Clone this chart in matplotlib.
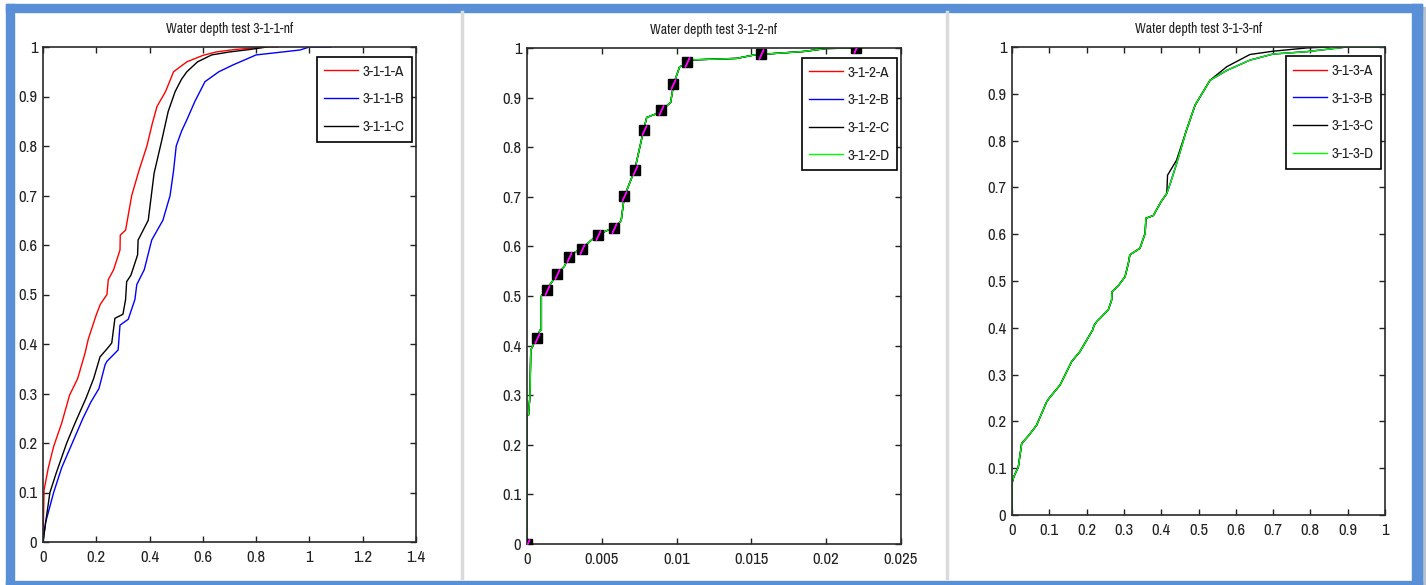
import matplotlib
matplotlib.use("Agg")
import matplotlib.pyplot as plt
from matplotlib import font_manager
from matplotlib.patches import Rectangle
from matplotlib.lines import Line2D
from matplotlib.ticker import FormatStrFormatter

# pick a narrow font if there is one
names = set(f.name for f in font_manager.fontManager.ttflist)
font = "Liberation Sans"
for cand in ["Liberation Sans Narrow", "Arial Narrow", "Archivo Narrow", "PT Sans Narrow", "Roboto Condensed"]:
    if cand in names:
        font = cand
        break
plt.rcParams["font.family"] = [font, "DejaVu Sans"]

titles = ["Water depth test 3-1-1-nf", "Water depth test 3-1-2-nf", "Water depth test 3-1-3-nf"]

# test 3-1-1
a1_x = [0, 0.004, 0.02, 0.04, 0.07, 0.10, 0.13, 0.158, 0.17, 0.20, 0.215, 0.24, 0.245, 0.265, 0.289, 0.29,
        0.31, 0.333, 0.36, 0.39, 0.41, 0.428, 0.46, 0.49, 0.54, 0.6, 0.65, 0.72, 0.84, 0.88]
a1_y = [0, 0.105, 0.15, 0.193, 0.24, 0.297, 0.33, 0.382, 0.41, 0.459, 0.48, 0.50, 0.53, 0.55, 0.59, 0.62,
        0.63, 0.70, 0.75, 0.80, 0.845, 0.88, 0.91, 0.95, 0.97, 0.983, 0.99, 0.995, 1.0, 1.0]
b1_x = [0, 0.01, 0.04, 0.07, 0.11, 0.15, 0.18, 0.21, 0.233, 0.24, 0.282, 0.289, 0.32, 0.345, 0.352, 0.38,
        0.408, 0.45, 0.477, 0.49, 0.50, 0.52, 0.54, 0.57, 0.608, 0.66, 0.714, 0.80, 0.90, 0.965, 1.0, 1.08]
b1_y = [0, 0.04, 0.10, 0.15, 0.20, 0.25, 0.283, 0.31, 0.358, 0.365, 0.388, 0.438, 0.45, 0.49, 0.52, 0.55,
        0.61, 0.65, 0.70, 0.75, 0.80, 0.83, 0.853, 0.89, 0.93, 0.95, 0.964, 0.984, 0.99, 0.994, 1.0, 1.0]
c1_x = [0, 0.01, 0.026, 0.05, 0.089, 0.12, 0.161, 0.19, 0.214, 0.24, 0.258, 0.27, 0.30, 0.31, 0.314, 0.33,
        0.355, 0.357, 0.395, 0.417, 0.446, 0.47, 0.496, 0.52, 0.54, 0.58, 0.633, 0.70, 0.777, 0.84]
c1_y = [0, 0.04, 0.10, 0.14, 0.20, 0.24, 0.29, 0.33, 0.374, 0.39, 0.402, 0.452, 0.46, 0.49, 0.526, 0.539,
        0.58, 0.61, 0.65, 0.745, 0.812, 0.87, 0.91, 0.935, 0.95, 0.97, 0.984, 0.99, 0.995, 1.0]

# test 3-1-2 (all four curves lie on top of each other)
d2_x = [0, 0, 0.0001, 0.0002, 0.0002, 0.00025, 0.00038, 0.00065, 0.00087, 0.00096, 0.00096, 0.0013, 0.0017,
        0.0020, 0.0025, 0.0028, 0.0033, 0.0037, 0.0042, 0.0047, 0.0052, 0.0058, 0.0060, 0.0063, 0.0065, 0.0072,
        0.0078, 0.0080, 0.0087, 0.0094, 0.0096, 0.0098, 0.0102, 0.0105, 0.0110, 0.0140, 0.0152, 0.0156, 0.0185,
        0.0200, 0.0220]
d2_y = [0, 0.26, 0.26, 0.30, 0.30, 0.39, 0.40, 0.415, 0.431, 0.431, 0.50, 0.513, 0.53, 0.544, 0.56, 0.579,
        0.59, 0.595, 0.61, 0.623, 0.63, 0.638, 0.64, 0.653, 0.70, 0.754, 0.835, 0.86, 0.868, 0.885, 0.89, 0.927,
        0.962, 0.966, 0.976, 0.979, 0.986, 0.987, 0.993, 0.999, 1.0]
mark_x = [0, 0.00065, 0.00131, 0.00203, 0.00283, 0.0037, 0.00472, 0.00582, 0.0065, 0.0072, 0.00782, 0.00894,
          0.00978, 0.01072, 0.01562, 0.022]
mark_y = [0, 0.415, 0.513, 0.544, 0.579, 0.595, 0.623, 0.638, 0.702, 0.754, 0.835, 0.874, 0.927, 0.971, 0.987, 1.0]

# test 3-1-3
c3_x = [0, 0, 0.005, 0.017, 0.026, 0.045, 0.066, 0.093, 0.10, 0.129, 0.16, 0.182, 0.216, 0.22, 0.227, 0.258,
        0.267, 0.268, 0.285, 0.303, 0.312, 0.316, 0.343, 0.357, 0.359, 0.379, 0.40, 0.415, 0.417, 0.441, 0.468,
        0.491, 0.531, 0.576, 0.638, 0.70, 0.79, 0.85]
c3_y = [0, 0.068, 0.082, 0.103, 0.153, 0.17, 0.192, 0.242, 0.25, 0.278, 0.328, 0.349, 0.395, 0.405, 0.413,
        0.438, 0.459, 0.477, 0.49, 0.509, 0.538, 0.556, 0.570, 0.602, 0.634, 0.64, 0.67, 0.687, 0.726, 0.758,
        0.823, 0.876, 0.929, 0.958, 0.984, 0.991, 0.998, 1.0]
d3_x = [0, 0, 0.005, 0.017, 0.026, 0.045, 0.066, 0.093, 0.10, 0.129, 0.16, 0.182, 0.216, 0.22, 0.227, 0.258,
        0.267, 0.268, 0.285, 0.303, 0.312, 0.316, 0.343, 0.357, 0.359, 0.379, 0.40, 0.415, 0.425, 0.441, 0.468,
        0.491, 0.531, 0.576, 0.638, 0.70, 0.79, 0.897, 1.0]
d3_y = [0, 0.068, 0.082, 0.103, 0.153, 0.17, 0.192, 0.242, 0.25, 0.278, 0.328, 0.349, 0.395, 0.405, 0.413,
        0.438, 0.459, 0.477, 0.49, 0.509, 0.538, 0.556, 0.570, 0.602, 0.634, 0.64, 0.67, 0.687, 0.71, 0.75,
        0.823, 0.876, 0.929, 0.95, 0.972, 0.985, 0.99, 1.0, 1.0]

fig = plt.figure(figsize=(14.26, 5.85), dpi=100)

blue = "#588fd6"
# outer blue frame
fig.patches.append(Rectangle((6 / 1426, 0), 1416 / 1426, 4 / 585, transform=fig.transFigure, color=blue, zorder=-5))
fig.patches.append(Rectangle((6 / 1426, 573 / 585), 1416 / 1426, 8 / 585, transform=fig.transFigure, color=blue, zorder=-5))
fig.patches.append(Rectangle((6 / 1426, 0), 8 / 1426, 581 / 585, transform=fig.transFigure, color=blue, zorder=-5))
fig.patches.append(Rectangle((1412 / 1426, 0), 10 / 1426, 581 / 585, transform=fig.transFigure, color=blue, zorder=-5))
fig.patches.append(Rectangle((1422 / 1426, 0), 4 / 1426, 578 / 585, transform=fig.transFigure, color="#b8c2cc", zorder=-6))
for sx in [461.5, 946.5]:
    fig.add_artist(Line2D([sx / 1426, sx / 1426], [7 / 585, 573 / 585], transform=fig.transFigure,
                          color="#dadada", lw=2.5))

ax1 = fig.add_axes([43 / 1426, 43 / 585, 373 / 1426, 495 / 585])
ax2 = fig.add_axes([527 / 1426, 41 / 585, 374 / 1426, 496 / 585])
ax3 = fig.add_axes([1012 / 1426, 70 / 585, 373 / 1426, 468 / 585])

lw = 1.0
ax1.plot(a1_x, a1_y, color="#ff0000", lw=lw, label="3-1-1-A")
ax1.plot(b1_x, b1_y, color="#0000ff", lw=lw, label="3-1-1-B")
ax1.plot(c1_x, c1_y, color="#000000", lw=lw, label="3-1-1-C")
ax1.set_xlim(0, 1.4)
ax1.set_xticks([0, 0.2, 0.4, 0.6, 0.8, 1, 1.2, 1.4])

ax2.plot(d2_x, d2_y, color="#ff0000", lw=lw, label="3-1-2-A")
ax2.plot(d2_x, d2_y, color="#0000ff", lw=lw, label="3-1-2-B")
ax2.plot(d2_x, d2_y, color="#000000", lw=lw, label="3-1-2-C")
ax2.plot(d2_x, d2_y, color="#00ff00", lw=lw, label="3-1-2-D")
ax2.plot(mark_x, mark_y, ls="none", marker="s", ms=7.5, mfc="black", mec="black", zorder=5)
ax2.plot(mark_x, mark_y, ls="none", marker=(2, 2, -25), ms=8, mec="#ff00ff", mew=1.0, zorder=6)
ax2.set_xlim(0, 0.025)
ax2.set_xticks([0, 0.005, 0.01, 0.015, 0.02, 0.025])

ax3.plot(d3_x, d3_y, color="#ff0000", lw=lw, label="3-1-3-A")
ax3.plot(d3_x, d3_y, color="#0000ff", lw=lw, label="3-1-3-B")
ax3.plot(c3_x, c3_y, color="#000000", lw=lw, label="3-1-3-C")
ax3.plot(d3_x, d3_y, color="#00ff00", lw=lw, label="3-1-3-D")
ax3.set_xlim(0, 1)
ax3.set_xticks([0, 0.1, 0.2, 0.3, 0.4, 0.5, 0.6, 0.7, 0.8, 0.9, 1])

for ax, t in zip([ax1, ax2, ax3], titles):
    ax.set_ylim(0, 1)
    ax.set_yticks([0, 0.1, 0.2, 0.3, 0.4, 0.5, 0.6, 0.7, 0.8, 0.9, 1])
    ax.xaxis.set_major_formatter(FormatStrFormatter("%g"))
    ax.yaxis.set_major_formatter(FormatStrFormatter("%g"))
    ax.tick_params(direction="in", length=4, width=1, top=True, right=True, labelsize=12,
                   colors="#222222")
    ax.tick_params(axis="x", pad=6)
    ax.tick_params(axis="y", pad=4)
    for sp in ax.spines.values():
        sp.set_color("#2a2a2a")
        sp.set_linewidth(1.2)
    ax.set_title(t, fontsize=10, color="#222222", pad=10)
    leg = ax.legend(loc="upper right", bbox_to_anchor=(0.99, 0.98), borderaxespad=0, fontsize=11,
                    fancybox=False, framealpha=1, edgecolor="black", handlelength=2.2,
                    handletextpad=0.3, borderpad=0.5, labelspacing=0.9)
    leg.get_frame().set_linewidth(1.2)
    for txt in leg.get_texts():
        txt.set_color("#222222")

fig.savefig("out.png", dpi=100)
